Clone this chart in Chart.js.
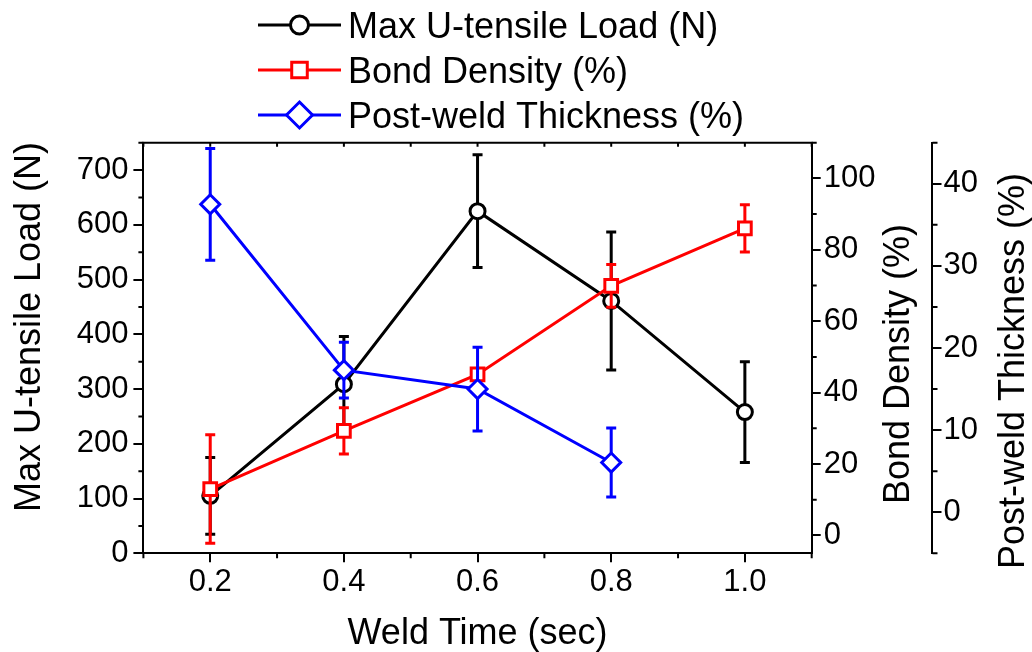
<!DOCTYPE html>
<html>
<head>
<meta charset="utf-8">
<script src="https://cdn.jsdelivr.net/npm/chart.js@4.4.1/dist/chart.umd.min.js"></script>
<style>
  html, body { margin: 0; padding: 0; background: #fff; }
  canvas { display: block; }
</style>
</head>
<body>
<canvas id="chart" width="1032" height="652"></canvas>
<script>
// Weld time (sec) for each sample group
const weldTime = [0.2, 0.4, 0.6, 0.8, 1.0];

// Max U-tensile load (N): mean and standard deviation
const loadMean = [105, 309, 625, 461, 258];
const loadErr  = [70, 87, 103, 126, 92];

// Bond density (%): mean and standard deviation
const bondMean = [13, 29.3, 45.1, 69.9, 86];
const bondErr  = [15.2, 6.5, 1.5, 6, 6.6];

// Post-weld thickness (%): mean and standard deviation (no 1.0 s sample)
const thickMean = [37.5, 17.3, 15.0, 6.05];
const thickErr  = [6.8, 3.4, 5.1, 4.2];

// Tick values
const xTicks          = [0.2, 0.4, 0.6, 0.8, 1.0];
const xMinorTicks     = [0.1, 0.3, 0.5, 0.7, 0.9, 1.1];
const loadTicks       = [0, 100, 200, 300, 400, 500, 600, 700];
const loadMinorTicks  = [50, 150, 250, 350, 450, 550, 650, 750];
const bondTicks       = [0, 20, 40, 60, 80, 100];
const bondMinorTicks  = [10, 30, 50, 70, 90, 110];
const thickTicks      = [0, 10, 20, 30, 40];
const thickMinorTicks = [-5, 5, 15, 25, 35, 45];

const seriesNames = ['Max U-tensile Load (N)', 'Bond Density (%)', 'Post-weld Thickness (%)'];
const xTitle = 'Weld Time (sec)';
const loadTitle = 'Max U-tensile Load (N)';
const bondTitle = 'Bond Density (%)';
const thickTitle = 'Post-weld Thickness (%)';

const FONT = '"Liberation Sans", Arial, Helvetica, sans-serif';
const BLACK = '#000000', RED = '#ff0000', BLUE = '#0000ff';

function points(xs, ys) { return ys.map((y, i) => ({ x: xs[i], y })); }

const errorSets = [
  { axis: 'y',  mean: loadMean,  err: loadErr,  color: BLACK },
  { axis: 'y1', mean: bondMean,  err: bondErr,  color: RED },
  { axis: 'y2', mean: thickMean, err: thickErr, color: BLUE }
];

function markerPath(ctx, style, x, y, r) {
  ctx.beginPath();
  if (style === 'circle') {
    ctx.arc(x, y, r, 0, Math.PI * 2);
  } else if (style === 'rect') {
    const s = r * Math.SQRT1_2;
    ctx.rect(x - s, y - s, 2 * s, 2 * s);
  } else {
    ctx.moveTo(x, y - r); ctx.lineTo(x + r, y); ctx.lineTo(x, y + r); ctx.lineTo(x - r, y);
    ctx.closePath();
  }
}

const decorations = {
  id: 'decorations',
  beforeDatasetDraw(chart, args) {
    // error bars sit just under their own series
    const set = errorSets[args.index];
    const ctx = chart.ctx;
    const xs = chart.scales.x, ys = chart.scales[set.axis];
    ctx.save();
    ctx.strokeStyle = set.color;
    ctx.lineWidth = 3;
    ctx.lineCap = 'butt';
    set.mean.forEach((m, i) => {
      const px = xs.getPixelForValue(weldTime[i]);
      const top = ys.getPixelForValue(m + set.err[i]);
      const bot = ys.getPixelForValue(m - set.err[i]);
      ctx.beginPath();
      ctx.moveTo(px, top); ctx.lineTo(px, bot);
      ctx.moveTo(px - 5, top); ctx.lineTo(px + 5, top);
      ctx.moveTo(px - 5, bot); ctx.lineTo(px + 5, bot);
      ctx.stroke();
    });
    ctx.restore();
  },
  afterDraw(chart) {
    const ctx = chart.ctx;
    const a = chart.chartArea;
    const { x, y, y1, y2 } = chart.scales;
    ctx.save();
    ctx.strokeStyle = BLACK;
    ctx.lineWidth = 2;

    // top frame line with inward ticks
    ctx.beginPath();
    ctx.moveTo(a.left - 1, a.top); ctx.lineTo(a.right + 1, a.top);
    xTicks.concat(xMinorTicks).forEach(v => {
      const px = x.getPixelForValue(v);
      ctx.moveTo(px, a.top); ctx.lineTo(px, a.top + 4);
    });
    ctx.stroke();

    // minor ticks
    ctx.beginPath();
    xMinorTicks.forEach(v => {
      const px = x.getPixelForValue(v);
      ctx.moveTo(px, a.bottom); ctx.lineTo(px, a.bottom + 5);
    });
    loadMinorTicks.forEach(v => {
      const py = y.getPixelForValue(v);
      ctx.moveTo(a.left, py); ctx.lineTo(a.left - 5, py);
    });
    bondMinorTicks.forEach(v => {
      const py = y1.getPixelForValue(v);
      ctx.moveTo(a.right, py); ctx.lineTo(a.right + 5, py);
    });
    thickMinorTicks.forEach(v => {
      const py = y2.getPixelForValue(v);
      ctx.moveTo(y2.left, py); ctx.lineTo(y2.left + 5, py);
    });
    ctx.stroke();

    // axis titles
    ctx.fillStyle = BLACK;
    ctx.font = '36px ' + FONT;
    ctx.textAlign = 'center';
    ctx.textBaseline = 'alphabetic';
    ctx.fillText(xTitle, (a.left + a.right) / 2, 644);

    const vertical = (text, bx, cy) => {
      ctx.save();
      ctx.translate(bx, cy);
      ctx.rotate(-Math.PI / 2);
      ctx.fillText(text, 0, 0);
      ctx.restore();
    };
    vertical(loadTitle, 40, 327);
    vertical(bondTitle, 909, 364);
    vertical(thickTitle, 1024, 371);

    // legend: line + marker + label
    const rows = [
      { ds: chart.data.datasets[0], cy: 25, r: 9 },
      { ds: chart.data.datasets[1], cy: 70, r: 11 },
      { ds: chart.data.datasets[2], cy: 115, r: 13 }
    ];
    rows.forEach(row => {
      const ds = row.ds;
      ctx.strokeStyle = ds.borderColor;
      ctx.lineWidth = 3;
      ctx.beginPath();
      ctx.moveTo(258, row.cy); ctx.lineTo(341, row.cy);
      ctx.stroke();
      markerPath(ctx, ds.pointStyle, 299.5, row.cy, row.r);
      ctx.fillStyle = '#ffffff';
      ctx.fill();
      ctx.lineWidth = 3;
      ctx.stroke();
      ctx.fillStyle = BLACK;
      ctx.textAlign = 'left';
      ctx.fillText(ds.label, 348, row.cy + 13);
    });
    ctx.restore();
  }
};

const tickFont = { family: FONT, size: 31 };
const gridCommon = { display: true, drawOnChartArea: false, drawTicks: true, tickLength: 9, lineWidth: 2, color: BLACK, tickColor: BLACK, tickWidth: 2 };
const borderCommon = { display: true, color: BLACK, width: 2 };

new Chart(document.getElementById('chart'), {
  type: 'line',
  data: {
    datasets: [
      {
        label: seriesNames[0], data: points(weldTime, loadMean), yAxisID: 'y', order: 2,
        borderColor: BLACK, borderWidth: 3, pointStyle: 'circle', pointRadius: 7.5,
        pointBorderWidth: 3, pointBackgroundColor: '#ffffff', pointBorderColor: BLACK
      },
      {
        label: seriesNames[1], data: points(weldTime, bondMean), yAxisID: 'y1', order: 1,
        borderColor: RED, borderWidth: 3, pointStyle: 'rect', pointRadius: 9,
        pointBorderWidth: 3, pointBackgroundColor: '#ffffff', pointBorderColor: RED
      },
      {
        label: seriesNames[2], data: points(weldTime, thickMean), yAxisID: 'y2', order: 0,
        borderColor: BLUE, borderWidth: 3, pointStyle: 'rectRot', pointRadius: 9.5,
        pointBorderWidth: 3, pointBackgroundColor: '#ffffff', pointBorderColor: BLUE
      }
    ]
  },
  options: {
    responsive: false,
    animation: false,
    devicePixelRatio: 1,
    layout: { padding: { top: 142.7, left: 0, right: 0, bottom: 0 } },
    plugins: { legend: { display: false }, tooltip: { enabled: false } },
    elements: { line: { tension: 0 } },
    scales: {
      x: {
        type: 'linear', position: 'bottom', min: 0.1, max: 1.1,
        afterBuildTicks: s => { s.ticks = xTicks.map(v => ({ value: v })); },
        afterFit: s => { s.height = 98.7; },
        ticks: { font: tickFont, color: BLACK, padding: 2, autoSkip: false, maxRotation: 0,
                 callback: v => Number(v).toFixed(1) },
        grid: gridCommon, border: borderCommon
      },
      y: {
        type: 'linear', position: 'left', min: 0, max: 750,
        afterBuildTicks: s => { s.ticks = loadTicks.map(v => ({ value: v })); },
        afterFit: s => { s.width = 143.4; },
        ticks: { font: tickFont, color: BLACK, padding: 5, callback: v => String(v) },
        grid: Object.assign({}, gridCommon, { tickLength: 10 }), border: borderCommon
      },
      y1: {
        type: 'linear', position: 'right', min: -5, max: 110,
        afterBuildTicks: s => { s.ticks = bondTicks.map(v => ({ value: v })); },
        afterFit: s => { s.width = 120.8; },
        ticks: { font: tickFont, color: BLACK, padding: 3, callback: v => String(v) },
        grid: gridCommon, border: borderCommon
      },
      y2: {
        type: 'linear', position: 'right', min: -5, max: 45,
        afterBuildTicks: s => { s.ticks = thickTicks.map(v => ({ value: v })); },
        afterFit: s => { s.width = 99.5; },
        ticks: { font: tickFont, color: BLACK, padding: 2, callback: v => String(v) },
        grid: gridCommon, border: borderCommon
      }
    }
  },
  plugins: [decorations]
});
</script>
</body>
</html>
